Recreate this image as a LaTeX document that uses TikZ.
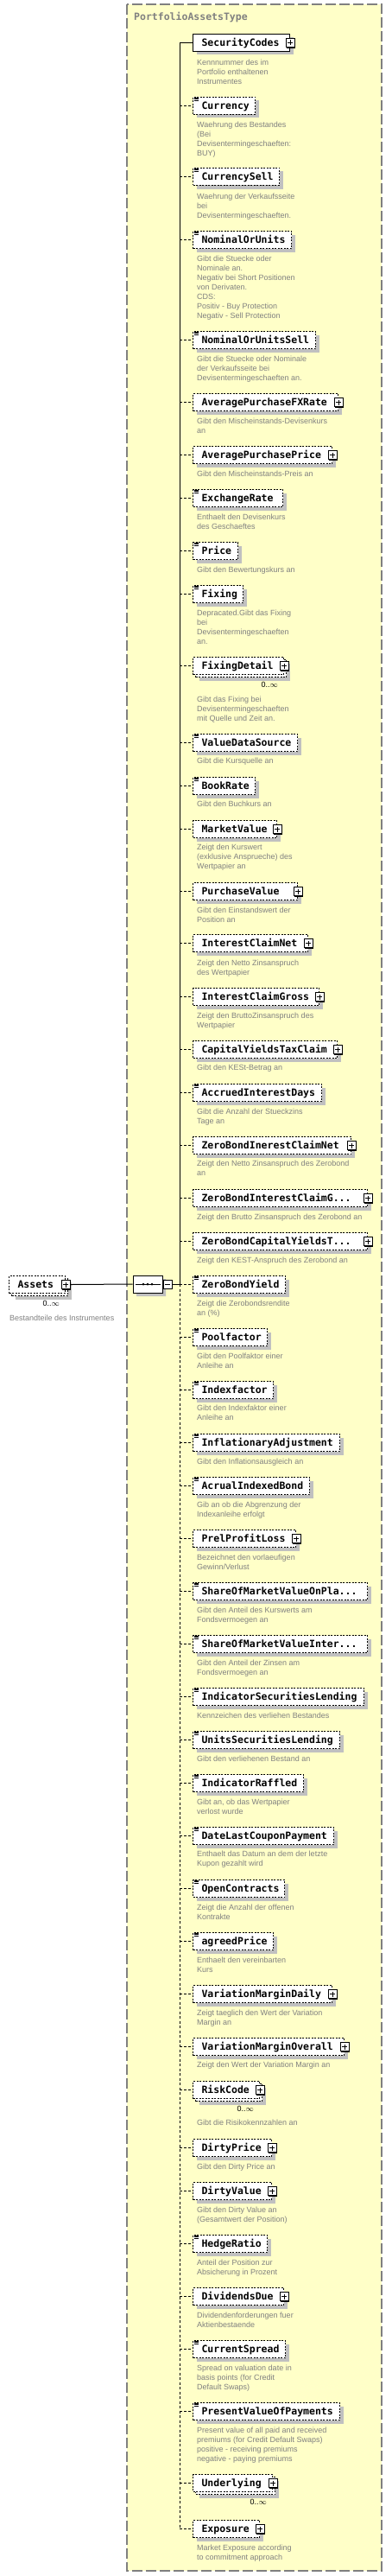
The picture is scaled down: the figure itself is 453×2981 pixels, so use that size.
\documentclass[tikz,border=0pt]{standalone}
\usepackage{fontspec}
\setmainfont{Liberation Sans}
\newfontfamily\elfont{DejaVu Sans Mono}
\usetikzlibrary{shadows,shapes.misc}
\definecolor{typefill}{HTML}{FFFFC8}
\definecolor{descgray}{HTML}{808080}
\definecolor{shadowgray}{HTML}{C0C0C0}
\definecolor{typeborder}{HTML}{808080}
\tikzset{
  elbase/.style={anchor=north west, draw=black, line width=1pt, fill=white, inner sep=0pt,
    minimum height=20pt, text height=8.4pt, text depth=0pt,
    font=\elfont\bfseries\fontsize{11.5}{12}\selectfont},
  elshadow/.style={drop shadow={shadow xshift=4pt, shadow yshift=-4pt, fill=shadowgray, opacity=1}},
  dashbox/.style={dash pattern=on 2pt off 1.5pt},
  plusbox/.style={draw=black, line width=0.9pt, fill=white, minimum size=10pt, inner sep=0pt,
    drop shadow={shadow xshift=1.2pt, shadow yshift=-1.2pt, fill=black, opacity=1},
    path picture={\draw[line width=0.9pt] ([xshift=2pt]path picture bounding box.west) -- ([xshift=-2pt]path picture bounding box.east);
                  \draw[line width=0.9pt] ([yshift=2pt]path picture bounding box.south) -- ([yshift=-2pt]path picture bounding box.north);}},
  minusbox/.style={draw=black, line width=0.9pt, fill=white, minimum size=10pt, inner sep=0pt,
    drop shadow={shadow xshift=1.2pt, shadow yshift=-1.2pt, fill=black, opacity=1},
    path picture={\draw[line width=0.9pt] ([xshift=2pt]path picture bounding box.west) -- ([xshift=-2pt]path picture bounding box.east);}},
  iconline/.style={line width=0.6pt, black},
  desc/.style={anchor=north west, inner sep=0pt, align=left, text=descgray, font=\fontsize{9}{11}\selectfont},
  occ/.style={anchor=east, inner sep=0pt, text=black, font=\fontsize{9}{11}\selectfont},
  conn/.style={draw=black, line width=1pt},
  stub/.style={draw=black, line width=1pt, dash pattern=on 3pt off 2pt},
  spdash/.style={dash pattern=on 3pt off 2.5pt},
  typebox/.style={draw=typeborder, fill=typefill, line width=1.3pt, dash pattern=on 12pt off 4pt},
  comp/.style={chamfered rectangle, chamfered rectangle xsep=6pt, chamfered rectangle ysep=6pt,
    draw=black, line width=1pt, fill=white, minimum width=34pt, minimum height=20pt, inner sep=0pt, elshadow},
}
\newcommand\elS[4]{%
  \node[elbase,elshadow] (#1) at (223,#2) {\makebox[\dimexpr#3pt-223pt\relax][l]{\hspace{10pt}#4}};
  \node[plusbox] (#1p) at (#1.east) {};}
\newcommand\elP[4]{%
  \node[elbase,elshadow,dashbox] (#1) at (223,#2) {\makebox[\dimexpr#3pt-223pt\relax][l]{\hspace{10pt}#4}};
  \node[plusbox] (#1p) at (#1.east) {};}
\newcommand\elT[4]{%
  \node[elbase,elshadow,dashbox] (#1) at (223,#2) {\makebox[\dimexpr#3pt-223pt\relax][l]{\hspace{10pt}#4}};
  \draw[iconline] ([xshift=1.7pt,yshift=-1pt]#1.north west) -- ++(5.6,0);
  \draw[iconline] ([xshift=1.7pt,yshift=-2.7pt]#1.north west) -- ++(5.6,0);
  \draw[iconline] ([xshift=1.7pt,yshift=-4.4pt]#1.north west) -- ++(5.6,0);}
\newcommand\elM[4]{%
  \node[elbase,elshadow,dashbox,minimum width={#3pt-223pt}] (#1b) at (226,{#2+3}) {};
  \node[elbase,dashbox] (#1) at (223,#2) {\makebox[\dimexpr#3pt-223pt\relax][l]{\hspace{10pt}#4}};
  \node[plusbox] (#1p) at (#1.east) {};
  \node[occ] (#1o) at ({#3-6},{#2+32}) {0..$\infty$};}
\newcommand\desc[3]{%
  \node[desc] (#1d) at (228,{#2-4.7}) {\strut #3};}
\begin{document}
\begin{tikzpicture}[x=1pt,y=-1pt]
\useasboundingbox (0,0) rectangle (453,2981);
\fill[white] (0,0) rectangle (453,2981);
\draw[typebox] (147,5) rectangle (442,2975);
\node[anchor=base west, inner sep=0pt, text=descgray, font=\elfont\bfseries\fontsize{11.5}{12}\selectfont] (title) at (155,24) {PortfolioAssetsType};

% root element
\node[elbase,elshadow,dashbox,minimum width=65pt] (assetsb) at (13,1479) {};
\node[elbase,dashbox] (assets) at (10,1476) {\makebox[65pt][l]{\hspace{10pt}Assets}};
\node[plusbox] (assetsp) at (assets.east) {};
\node[occ] (assetso) at (69,1508) {0..$\infty$};
\node[desc] (assetsd) at (11,1520.3) {\strut Bestandteile des Instrumentes};

% compositor
\node[comp] (comp) at (171,1486) {};
\node[minusbox] (compm) at ([xshift=5.5pt]comp.east) {};
\draw[line width=1pt] ([xshift=3pt]comp.west) -- ([xshift=-3pt]comp.east);
\fill ([xshift=-5pt]comp.center) circle (1.5pt);
\fill (comp.center) circle (1.5pt);
\fill ([xshift=5pt]comp.center) circle (1.5pt);

\elS{e1}{39}{335}{SecurityCodes}
\desc{e1}{72}{Kennnummer des im\\Portfolio enthaltenen\\Instrumentes}
\elT{e2}{112}{295}{Currency}
\desc{e2}{144}{Waehrung des Bestandes\\(Bei\\Devisentermingeschaeften:\\BUY)}
\elT{e3}{194}{323}{CurrencySell}
\desc{e3}{227}{Waehrung der Verkaufsseite\\bei\\Devisentermingeschaeften.}
\elT{e4}{267}{337}{NominalOrUnits}
\desc{e4}{299}{Gibt die Stuecke oder\\Nominale an.\\Negativ bei Short Positionen\\von Derivaten.\\CDS:\\Positiv - Buy Protection\\Negativ - Sell Protection}
\elT{e5}{383}{365}{NominalOrUnitsSell}
\desc{e5}{415}{Gibt die Stuecke oder Nominale\\der Verkaufsseite bei\\Devisentermingeschaeften an.}
\elP{e6}{455}{391}{AveragePurchaseFXRate}
\desc{e6}{487}{Gibt den Mischeinstands-Devisenkurs\\an}
\elP{e7}{516}{384}{AveragePurchasePrice}
\desc{e7}{548}{Gibt den Mischeinstands-Preis an}
\elT{e8}{566}{327}{ExchangeRate}
\desc{e8}{598}{Enthaelt den Devisenkurs\\des Geschaeftes}
\elT{e9}{627}{275}{Price}
\desc{e9}{659}{Gibt den Bewertungskurs an}
\elT{e10}{677}{281}{Fixing}
\desc{e10}{709}{Depracated.Gibt das Fixing\\bei\\Devisentermingeschaeften\\an.}
\elM{e11}{760}{328}{FixingDetail}
\desc{e11}{809}{Gibt das Fixing bei\\Devisentermingeschaeften\\mit Quelle und Zeit an.}
\elT{e12}{849}{344}{ValueDataSource}
\desc{e12}{880}{Gibt die Kursquelle an}
\elT{e13}{899}{295}{BookRate}
\desc{e13}{930}{Gibt den Buchkurs an}
\elP{e14}{949}{320}{MarketValue}
\desc{e14}{980}{Zeigt den Kurswert\\(exklusive Ansprueche) des\\Wertpapier an}
\elP{e15}{1021}{344}{PurchaseValue}
\desc{e15}{1053}{Gibt den Einstandswert der\\Position an}
\elP{e16}{1081}{356}{InterestClaimNet}
\desc{e16}{1114}{Zeigt den Netto Zinsanspruch\\des Wertpapier}
\elP{e17}{1143}{369}{InterestClaimGross}
\desc{e17}{1175}{Zeigt den BruttoZinsanspruch des\\Wertpapier}
\elP{e18}{1204}{390}{CapitalYieldsTaxClaim}
\desc{e18}{1235}{Gibt den KESt-Betrag an}
\elT{e19}{1254}{372}{AccruedInterestDays}
\desc{e19}{1286}{Gibt die Anzahl der Stueckzins\\Tage an}
\elP{e20}{1315}{406}{ZeroBondInerestClaimNet}
\desc{e20}{1346}{Zeigt den Netto Zinsanspruch des Zerobond\\an}
\elP{e21}{1376}{425}{ZeroBondInterestClaimG...}
\desc{e21}{1408}{Zeigt den Brutto Zinsanspruch des Zerobond an}
\elP{e22}{1426}{425}{ZeroBondCapitalYieldsT...}
\desc{e22}{1458}{Zeigt den KEST-Anspruch des Zerobond an}
\elT{e23}{1476}{330}{ZeroBondYield}
\desc{e23}{1508}{Zeigt die Zerobondsrendite\\an (\%)}
\elT{e24}{1537}{309}{Poolfactor}
\desc{e24}{1569}{Gibt den Poolfaktor einer\\Anleihe an}
\elT{e25}{1598}{316}{Indexfactor}
\desc{e25}{1629}{Gibt den Indexfaktor einer\\Anleihe an}
\elT{e26}{1659}{393}{InflationaryAdjustment}
\desc{e26}{1691}{Gibt den Inflationsausgleich an}
\elT{e27}{1709}{358}{AcrualIndexedBond}
\desc{e27}{1741}{Gib an ob die Abgrenzung der\\Indexanleihe erfolgt}
\elP{e28}{1770}{342}{PrelProfitLoss}
\desc{e28}{1802}{Bezeichnet den vorlaeufigen\\Gewinn/Verlust}
\elT{e29}{1831}{425}{ShareOfMarketValueOnPla...}
\desc{e29}{1863}{Gibt den Anteil des Kurswerts am\\Fondsvermoegen an}
\elT{e30}{1892}{425}{ShareOfMarketValueInter...}
\desc{e30}{1924}{Gibt den Anteil der Zinsen am\\Fondsvermoegen an}
\elT{e31}{1953}{421}{IndicatorSecuritiesLending}
\desc{e31}{1985}{Kennzeichen des verliehen Bestandes}
\elT{e32}{2003}{393}{UnitsSecuritiesLending}
\desc{e32}{2035}{Gibt den verliehenen Bestand an}
\elT{e33}{2053}{351}{IndicatorRaffled}
\desc{e33}{2085}{Gibt an, ob das Wertpapier\\verlost wurde}
\elT{e34}{2114}{386}{DateLastCouponPayment}
\desc{e34}{2145}{Enthaelt das Datum an dem der letzte\\Kupon gezahlt wird}
\elT{e35}{2175}{329}{OpenContracts}
\desc{e35}{2207}{Zeigt die Anzahl der offenen\\Kontrakte}
\elT{e36}{2236}{316}{agreedPrice}
\desc{e36}{2268}{Enthaelt den vereinbarten\\Kurs}
\elP{e37}{2297}{384}{VariationMarginDaily}
\desc{e37}{2329}{Zeigt taeglich den Wert der Variation\\Margin an}
\elP{e38}{2358}{398}{VariationMarginOverall}
\desc{e38}{2389}{Zeigt den Wert der Variation Margin an}
\elM{e39}{2408}{300}{RiskCode}
\desc{e39}{2456}{Gibt die Risikokennzahlen an}
\elP{e40}{2475}{314}{DirtyPrice}
\desc{e40}{2507}{Gibt den Dirty Price an}
\elP{e41}{2525}{314}{DirtyValue}
\desc{e41}{2557}{Gibt den Dirty Value an\\(Gesamtwert der Position)}
\elT{e42}{2586}{309}{HedgeRatio}
\desc{e42}{2618}{Anteil der Position zur\\Absicherung in Prozent}
\elP{e43}{2647}{328}{DividendsDue}
\desc{e43}{2679}{Dividendenforderungen fuer\\Aktienbestaende}
\elT{e44}{2708}{330}{CurrentSpread}
\desc{e44}{2740}{Spread on valuation date in\\basis points (for Credit\\Default Swaps)}
\elT{e45}{2780}{393}{PresentValueOfPayments}
\desc{e45}{2812}{Present value of all paid and received\\premiums (for Credit Default Swaps)\\positive - receiving premiums\\negative - paying premiums}
\elM{e46}{2863}{315}{Underlying}
\elP{e47}{2916}{300}{Exposure}
\desc{e47}{2948}{Market Exposure according\\to commitment approach}

% connectors
\coordinate (sp) at (208,0);
\draw[conn] (assetsp.east) -- (comp.west);
\draw[conn] (compm.east) -- (sp |- compm.east);
\draw[conn] (sp |- e1.west) -- (sp |- comp.east);
\draw[conn,spdash] (sp |- comp.east) -- (sp |- e47.west);
\draw[conn] (sp |- e1.west) -- (e1.west);
\foreach \i in {2,...,47} \draw[stub] (sp |- e\i.west) -- (e\i.west);
\end{tikzpicture}
\end{document}
